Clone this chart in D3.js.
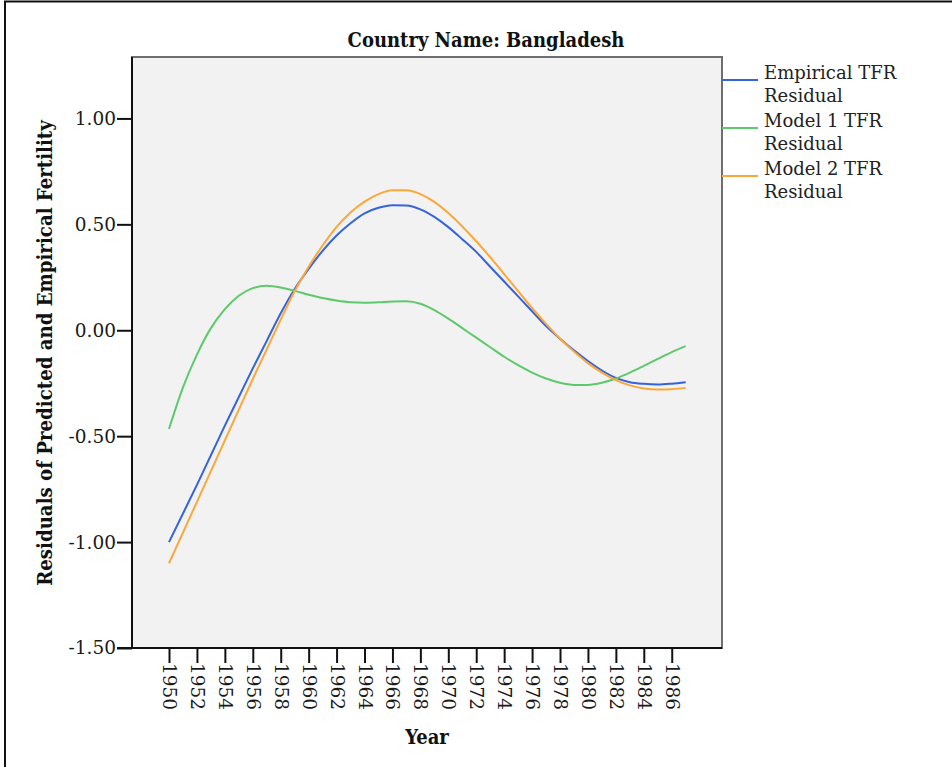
<!DOCTYPE html>
<html>
<head>
<meta charset="utf-8">
<script src="https://cdn.jsdelivr.net/npm/d3@7"></script>
<style>
  html, body { margin: 0; padding: 0; background: #fff; }
  svg { display: block; }
</style>
</head>
<body>
<script>
// Residuals of predicted and empirical total fertility rate, Bangladesh
const years = d3.range(1950, 1988);

const empiricalResidual = [
  -1.00, -0.865, -0.73, -0.59, -0.45, -0.315, -0.18, -0.05, 0.08, 0.195,
  0.29, 0.375, 0.447, 0.505, 0.552, 0.578, 0.59, 0.589, 0.571, 0.535,
  0.487, 0.43, 0.37, 0.30, 0.23, 0.16, 0.09, 0.02, -0.04, -0.095,
  -0.145, -0.19, -0.225, -0.245, -0.253, -0.256, -0.252, -0.245
];
const model1Residual = [
  -0.466, -0.27, -0.115, 0.01, 0.10, 0.163, 0.199, 0.21, 0.202, 0.186,
  0.168, 0.152, 0.14, 0.132, 0.13, 0.132, 0.136, 0.137, 0.125, 0.095,
  0.055, 0.01, -0.035, -0.08, -0.125, -0.165, -0.20, -0.228, -0.248, -0.258,
  -0.258, -0.248, -0.228, -0.20, -0.168, -0.135, -0.103, -0.075
];
const model2Residual = [
  -1.10, -0.955, -0.81, -0.665, -0.52, -0.375, -0.23, -0.09, 0.05, 0.185,
  0.30, 0.40, 0.488, 0.556, 0.607, 0.643, 0.661, 0.661, 0.643, 0.606,
  0.553, 0.49, 0.42, 0.345, 0.265, 0.185, 0.105, 0.03, -0.04, -0.10,
  -0.155, -0.20, -0.235, -0.26, -0.275, -0.28, -0.278, -0.272
];

const seriesNames = ["Empirical TFR Residual", "Model 1 TFR Residual", "Model 2 TFR Residual"];
const seriesColors = ["#3563db", "#5ec96c", "#fba73a"];
const yTicks = [1.0, 0.5, 0.0, -0.5, -1.0, -1.5];
const xTicks = d3.range(1950, 1988, 2);

const series = [empiricalResidual, model1Residual, model2Residual].map((vals, i) => ({
  name: seriesNames[i],
  color: seriesColors[i],
  points: years.map((y, j) => ({ year: y, value: vals[j] }))
}));

const W = 952, H = 767;
const plot = { left: 132, top: 57, right: 722, bottom: 648 };

const svg = d3.select("body").append("svg").attr("width", W).attr("height", H);

// outer frame
svg.append("rect")
  .attr("x", 5).attr("y", 1.5).attr("width", W + 20).attr("height", H + 20)
  .attr("fill", "none").attr("stroke", "#111").attr("stroke-width", 2);

const x = d3.scaleLinear().domain([1947.35, 1989.6]).range([plot.left, plot.right]);
const y = d3.scaleLinear().domain([-1.5, 1.29]).range([plot.bottom, plot.top]);

const serif = "'DejaVu Serif', serif";
const serifBold = "'DejaVu Serif Condensed', 'DejaVu Serif', serif";

// plot background
svg.append("rect")
  .attr("x", plot.left).attr("y", plot.top)
  .attr("width", plot.right - plot.left).attr("height", plot.bottom - plot.top)
  .attr("fill", "#f2f2f2").attr("stroke", "#6e6e6e").attr("stroke-width", 2);

// series lines
const line = d3.line()
  .x(d => x(d.year))
  .y(d => y(d.value))
  .curve(d3.curveMonotoneX);

const gLines = svg.append("g");
gLines.selectAll("path")
  .data(series)
  .join("path")
  .attr("d", d => line(d.points))
  .attr("fill", "none")
  .attr("stroke", d => d.color)
  .attr("stroke-width", 2);

// y axis (plain hyphen for negative values)
const fmt2 = d3.format(".2f");
const yAxis = d3.axisLeft(y)
  .tickValues(yTicks)
  .tickFormat(d => fmt2(d).replace("\u2212", "-"))
  .tickSize(15)
  .tickPadding(1);
const gy = svg.append("g")
  .attr("transform", `translate(${plot.left},0)`)
  .call(yAxis);
gy.select(".domain").attr("stroke", "#111").attr("stroke-width", 2)
  .attr("d", `M0,${plot.top}V${plot.bottom}`);
gy.selectAll(".tick line").attr("stroke", "#111").attr("stroke-width", 2);
gy.selectAll(".tick text")
  .attr("font-family", serif).attr("font-size", 18.5).attr("fill", "#1a1a1a");

// x axis
const xAxis = d3.axisBottom(x)
  .tickValues(xTicks)
  .tickFormat(d3.format("d"))
  .tickSize(15)
  .tickPadding(2);
const gx = svg.append("g")
  .attr("transform", `translate(0,${plot.bottom})`)
  .call(xAxis);
gx.select(".domain").attr("stroke", "#111").attr("stroke-width", 2)
  .attr("d", `M${plot.left - 15},0H${plot.right}`);
gx.selectAll(".tick line").attr("stroke", "#111").attr("stroke-width", 2);
gx.selectAll(".tick text")
  .attr("font-family", serif).attr("font-size", 18.5).attr("fill", "#1a1a1a")
  .attr("text-anchor", "start")
  .attr("dy", null)
  .attr("transform", "rotate(90)")
  .attr("x", 15)
  .attr("y", 0)
  .attr("dominant-baseline", "central");

// title
svg.append("text")
  .attr("x", 486).attr("y", 47)
  .attr("text-anchor", "middle")
  .attr("font-family", serifBold).attr("font-weight", "bold").attr("font-size", 20)
  .attr("fill", "#111")
  .text("Country Name: Bangladesh");

// axis titles
svg.append("text")
  .attr("x", 427).attr("y", 744)
  .attr("text-anchor", "middle")
  .attr("font-family", serifBold).attr("font-weight", "bold").attr("font-size", 20)
  .attr("fill", "#111")
  .text("Year");

svg.append("text")
  .attr("transform", "translate(52,353) rotate(-90)")
  .attr("text-anchor", "middle")
  .attr("font-family", serifBold).attr("font-weight", "bold").attr("font-size", 20.2)
  .attr("fill", "#111")
  .text("Residuals of Predicted and Empirical Fertility");

// legend
const legend = svg.append("g").attr("transform", "translate(722,0)");
const legendRows = legend.selectAll("g")
  .data(series)
  .join("g")
  .attr("transform", (d, i) => `translate(0,${80 + i * 48})`);
legendRows.append("line")
  .attr("x1", 0).attr("x2", 36).attr("y1", 0).attr("y2", 0)
  .attr("stroke", d => d.color).attr("stroke-width", 2);
legendRows.append("text")
  .attr("font-family", serif).attr("font-size", 18).attr("fill", "#222")
  .each(function(d) {
    const words = d.name.split(" ");
    const first = words.slice(0, words.length - 1).join(" ");
    const second = words[words.length - 1];
    const t = d3.select(this);
    t.append("tspan").attr("x", 42).attr("y", -1).text(first);
    t.append("tspan").attr("x", 42).attr("y", 22).text(second);
  });
</script>
</body>
</html>
